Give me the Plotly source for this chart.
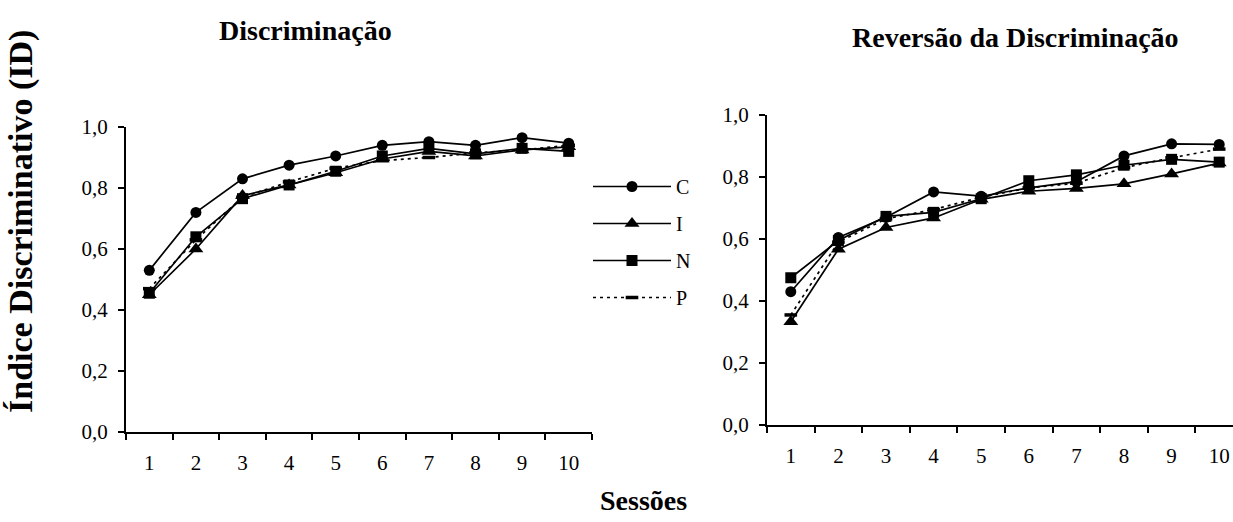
import plotly.graph_objects as go

sessions = ["1", "2", "3", "4", "5", "6", "7", "8", "9", "10"]
groups = ["C", "I", "N", "P"]

# Discriminação
disc_C = [0.53, 0.72, 0.83, 0.875, 0.905, 0.94, 0.952, 0.94, 0.965, 0.947]
disc_I = [0.45, 0.60, 0.775, 0.81, 0.85, 0.895, 0.92, 0.905, 0.925, 0.935]
disc_N = [0.455, 0.64, 0.765, 0.81, 0.855, 0.905, 0.93, 0.912, 0.93, 0.92]
disc_P = [0.47, 0.63, 0.77, 0.82, 0.865, 0.89, 0.90, 0.915, 0.925, 0.94]

# Reversão da Discriminação
rev_C = [0.43, 0.605, 0.67, 0.752, 0.738, 0.765, 0.785, 0.868, 0.907, 0.905]
rev_I = [0.333, 0.567, 0.637, 0.668, 0.728, 0.754, 0.763, 0.778, 0.81, 0.845]
rev_N = [0.475, 0.595, 0.673, 0.686, 0.73, 0.788, 0.807, 0.838, 0.857, 0.848]
rev_P = [0.355, 0.59, 0.665, 0.695, 0.735, 0.765, 0.78, 0.83, 0.862, 0.89]

y_ticks = [0.0, 0.2, 0.4, 0.6, 0.8, 1.0]
y_ticktext = ["0,0", "0,2", "0,4", "0,6", "0,8", "1,0"]

FONT = "Liberation Serif"
W, H = 1233, 522
TICK_SIZE = 21
TITLE_SIZE = 28
YTITLE_SIZE = 34

styles = {
    "C": dict(symbol="circle", size=11, dash="solid"),
    "I": dict(symbol="triangle-up", size=13, dash="solid"),
    "N": dict(symbol="square", size=11, dash="solid"),
    "P": dict(symbol="line-ew", size=9, dash="3px,4px"),
}

fig = go.Figure()

def add_series(name, vals, xa, ya, show):
    st = styles[name]
    marker = dict(symbol=st["symbol"], size=st["size"], color="black",
                  line=dict(color="black", width=3.5 if name == "P" else 0))
    fig.add_trace(go.Scatter(
        x=sessions, y=vals, name=name, mode="lines+markers",
        line=dict(color="black", width=1.7, dash=st["dash"]),
        marker=marker, xaxis=xa, yaxis=ya, showlegend=show,
        legendgroup=name,
    ))

for g, v in zip(groups, [disc_C, disc_I, disc_N, disc_P]):
    add_series(g, v, "x", "y", True)
for g, v in zip(groups, [rev_C, rev_I, rev_N, rev_P]):
    add_series(g, v, "x2", "y2", False)

def px_x(p):
    return p / W

def px_y(p):
    return (H - p) / H

axis_common = dict(showline=True, linecolor="black", linewidth=2, ticks="outside",
                   tickcolor="black", tickwidth=1.5, showgrid=False, zeroline=False,
                   automargin=False,
                   tickfont=dict(family=FONT, size=TICK_SIZE, color="black"))
x_common = dict(type="category", tickson="boundaries", ticklen=6, ticklabelstandoff=11,
                **axis_common)
y_common = dict(range=[0, 1.0], tickvals=y_ticks, ticktext=y_ticktext, ticklen=6,
                ticklabelstandoff=6, **axis_common)

def ann(text, x, y, size, angle=0):
    return dict(text=text, x=px_x(x), y=px_y(y), xref="paper", yref="paper",
                xanchor="center", yanchor="middle", showarrow=False, textangle=angle,
                font=dict(family=FONT, size=size, color="black"))

fig.update_layout(
    template="none",
    width=W, height=H, autosize=False,
    margin=dict(l=0, r=0, t=0, b=0, pad=0, autoexpand=False),
    paper_bgcolor="white", plot_bgcolor="white",
    font=dict(family=FONT, color="black"),
    xaxis=dict(domain=[px_x(126), px_x(592)], anchor="y", range=[-0.5, 9.5], **x_common),
    yaxis=dict(domain=[px_y(432), px_y(127)], anchor="x", **y_common),
    xaxis2=dict(domain=[px_x(767), 1.0], anchor="y2", range=[-0.5, 9.29], **x_common),
    yaxis2=dict(domain=[px_y(425), px_y(115)], anchor="x2", **y_common),
    legend=dict(x=px_x(588), y=px_y(167), xanchor="left", yanchor="top",
                font=dict(family=FONT, size=20, color="black"),
                itemwidth=78, tracegroupgap=8, traceorder="grouped",
                bgcolor="rgba(0,0,0,0)"),
    annotations=[
        ann("<b>Discriminação</b>", 305, 30, TITLE_SIZE),
        ann("<b>Reversão da Discriminação</b>", 1015, 37, TITLE_SIZE),
        ann("<b>Índice Discriminativo (ID)</b>", 21, 222, YTITLE_SIZE, -90),
        ann("<b>Sessões</b>", 643, 500, TITLE_SIZE),
    ],
)

fig.write_html("out.html", config={"displayModeBar": False},
               post_script="document.body.style.margin='0';document.body.style.overflow='hidden';")
